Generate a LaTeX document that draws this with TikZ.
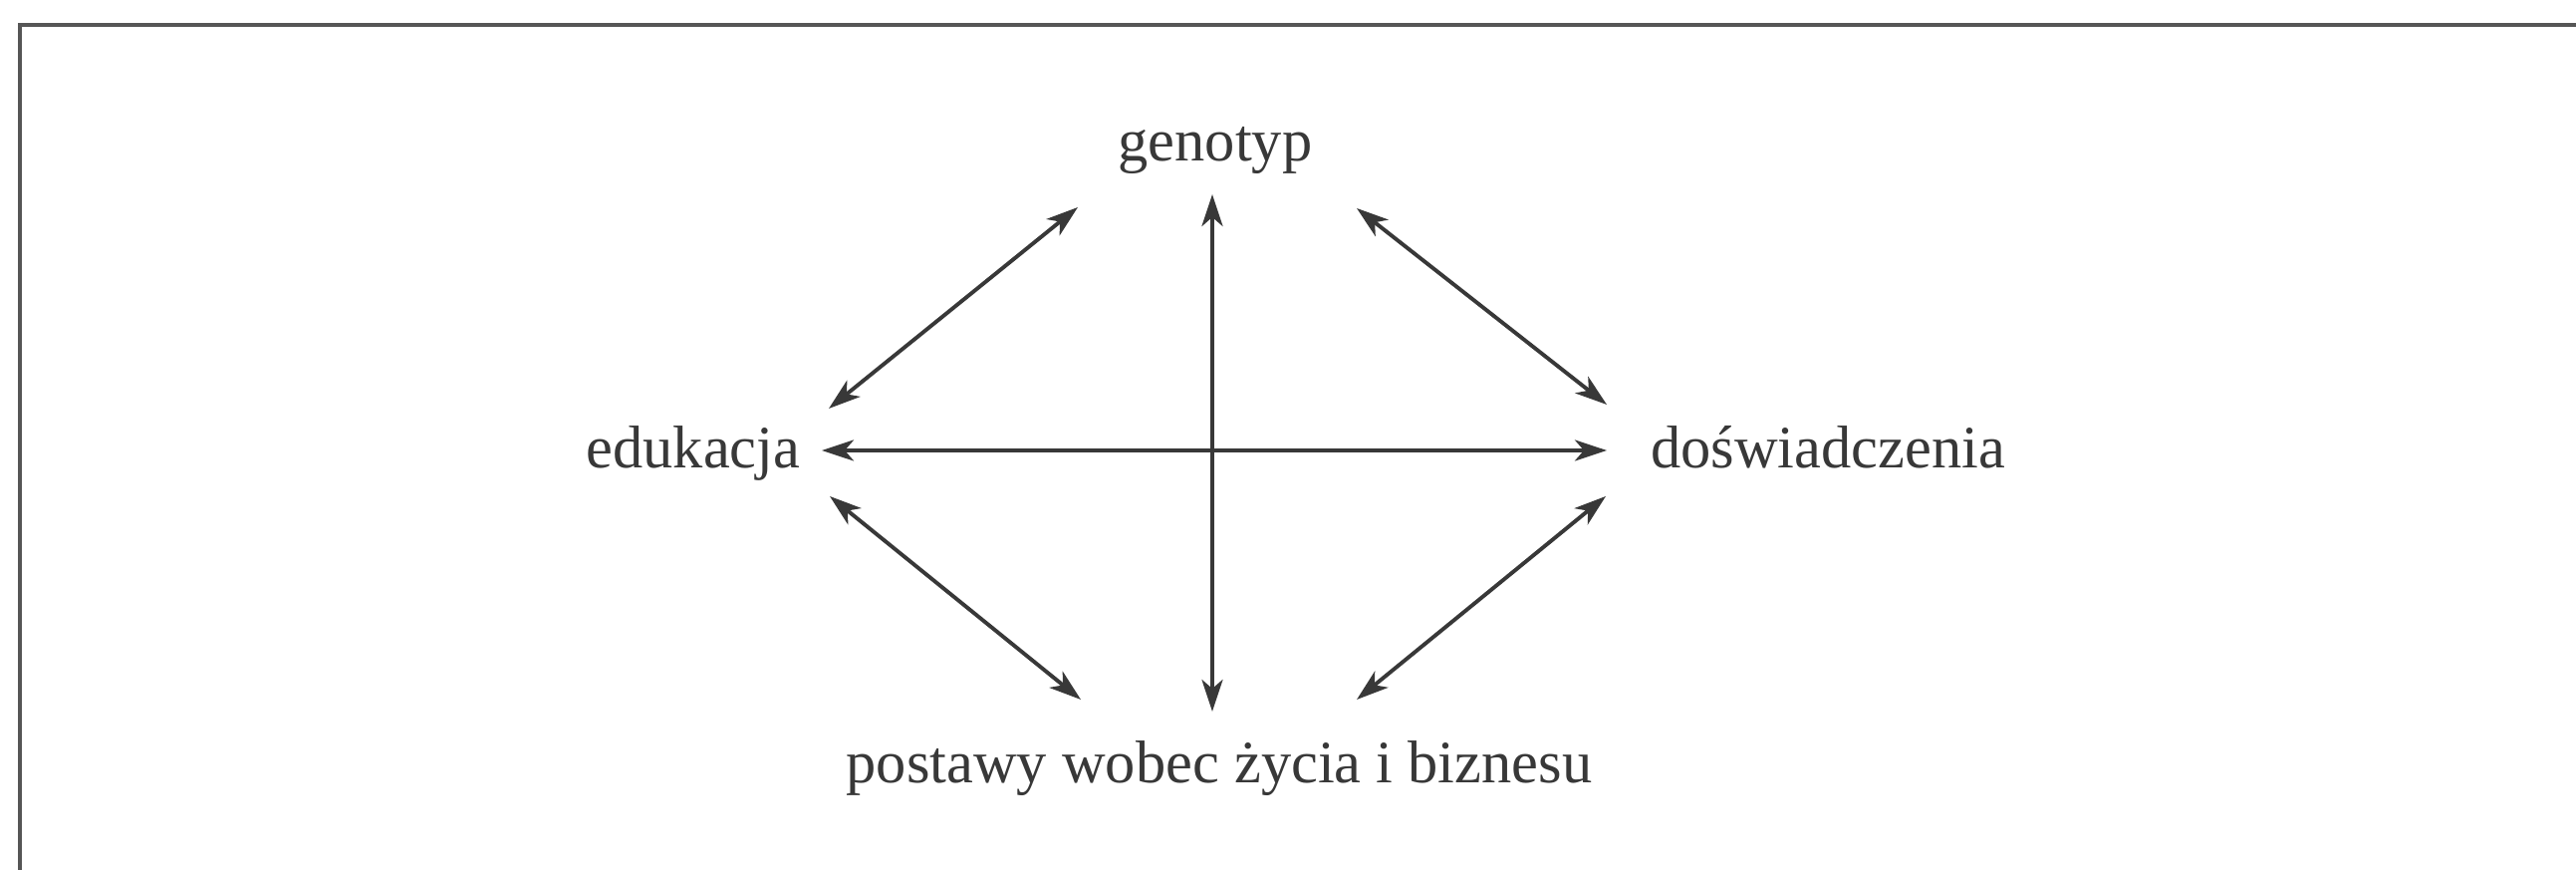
\documentclass[tikz,border=0pt]{standalone}
\usepackage{fontspec}
\setmainfont{Liberation Serif}
\usetikzlibrary{arrows.meta}
\definecolor{tinta}{HTML}{383838}
\begin{document}
\begin{tikzpicture}[
            etiqueta/.style={anchor=base, text=tinta, font=\fontsize{17.2}{20}\selectfont, inner sep=2pt},
            flecha/.style={draw=tinta, line width=1.1pt, {Stealth[length=0.32cm, width=0.21cm, inset=0.09cm]}-{Stealth[length=0.32cm, width=0.21cm, inset=0.09cm]}},
            marco/.style={draw=tinta!85, line width=1pt}
        ]
        \clip (0, 0) rectangle (25.86, 8.73);
        \fill[white] (0, 0) rectangle (25.86, 8.73);

        % --- MARCO ---
        \draw[marco] (0.20, -1) -- (0.20, 8.48) -- (27, 8.48);

        % --- NODOS ---
        \node[etiqueta] (geno) at (12.20, 7.11) {genotyp};
        \node[etiqueta] (edu) at (6.96, 4.03) {edukacja};
        \node[etiqueta] (dosw) at (18.35, 4.03) {doświadczenia};
        \node[etiqueta] (post) at (12.24, 0.87) {postawy wobec życia i biznesu};

        % --- EXTREMOS ---
        \coordinate (geno-s) at (12.17, 6.78);
        \coordinate (geno-sw) at (10.82, 6.65);
        \coordinate (geno-se) at (13.62, 6.64);
        \coordinate (edu-e) at (8.25, 4.21);
        \coordinate (edu-ne) at (8.32, 4.63);
        \coordinate (edu-se) at (8.33, 3.75);
        \coordinate (dosw-w) at (16.13, 4.21);
        \coordinate (dosw-nw) at (16.13, 4.67);
        \coordinate (dosw-sw) at (16.12, 3.75);
        \coordinate (post-n) at (12.17, 1.59);
        \coordinate (post-nw) at (10.85, 1.71);
        \coordinate (post-ne) at (13.62, 1.71);

        % --- FLECHAS ---
        \draw[flecha] (edu-ne) -- (geno-sw);
        \draw[flecha] (geno-se) -- (dosw-nw);
        \draw[flecha] (geno-s) -- (post-n);
        \draw[flecha] (edu-e) -- (dosw-w);
        \draw[flecha] (edu-se) -- (post-nw);
        \draw[flecha] (dosw-sw) -- (post-ne);
    \end{tikzpicture}
\end{document}
